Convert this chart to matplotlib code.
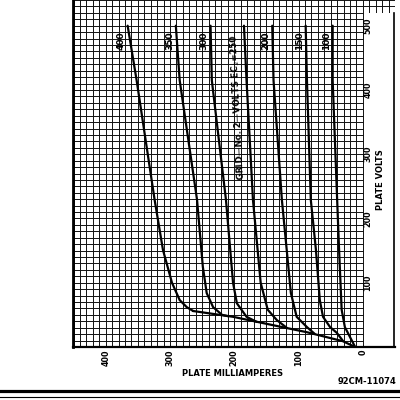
import numpy as np
import matplotlib
matplotlib.use("Agg")
import matplotlib.pyplot as plt
from matplotlib.lines import Line2D
from matplotlib.patches import Rectangle

# screen grid (grid No. 2) voltage of each curve
screen_volts = [400, 350, 300, 250, 200, 150, 100]

# plate current (mA) and plate voltage (V), one pair per curve
ma_400 = [366, 352, 324, 311, 297, 285, 274, 264]
v_400 = [500, 415, 229, 151, 100, 73, 62, 56]
ma_350 = [291, 285, 258, 249, 243, 233, 219, 210]
v_350 = [500, 415, 229, 125, 84, 62, 50, 48]
ma_300 = [237, 235, 213, 202, 196, 181, 165]
v_300 = [500, 415, 229, 100, 68, 47, 39]
ma_250 = [185, 181, 171, 159, 148, 134, 118]
v_250 = [500, 415, 229, 100, 58, 42, 29.5]
ma_200 = [141, 139, 126, 112, 103, 87, 75]
v_200 = [500, 415, 229, 84, 47, 31, 20.5]
ma_150 = [89, 87, 81, 73, 67, 62, 51, 40.5, 31]
v_150 = [500, 415, 229, 151, 73, 47, 31, 22, 9.5]
ma_100 = [47, 47, 40, 37, 33, 28, 20, 12]
v_100 = [500, 415, 229, 151, 58, 31, 15.5, 0]

# low-voltage part that all the curves run into
ma_knee = [264, 202, 140, 87, 47, 31, 12]
v_knee = [56, 47, 34, 23, 13, 9, 0]

ma_ticks = [0, 100, 200, 300, 400]
volt_ticks = [100, 200, 300, 400, 500]

curves = [(ma_400, v_400), (ma_350, v_350), (ma_300, v_300), (ma_250, v_250),
          (ma_200, v_200), (ma_150, v_150), (ma_100, v_100)]

plt.rcParams["font.family"] = ["DejaVu Sans"]

fig = plt.figure(figsize=(4, 4), dpi=100)
ax = fig.add_axes([73 / 400, 53 / 400, 322 / 400, 347 / 400])
ax.set_xlim(451, -50)
ax.set_ylim(0, 540)

# graph paper: a line every 10 mA and every 10 V
ax.set_xticks(ma_ticks)
ax.set_xticklabels([str(t) for t in ma_ticks], rotation=90,
                   fontsize=5.8, fontweight="bold")
ax.set_xticks(np.arange(-40, 451, 10), minor=True)
ax.set_yticks([])
ax.set_yticks(np.arange(0, 541, 10), minor=True)
ax.tick_params(which="both", length=0, pad=2)
ax.set_axisbelow(True)
ax.grid(which="both", color="#111111", lw=0.7)

for side in ["top", "right"]:
    ax.spines[side].set_visible(False)
ax.spines["left"].set_linewidth(2.0)
ax.spines["bottom"].set_linewidth(1.6)

# blank strip on the right that holds the plate-volts scale
ax.add_patch(Rectangle((-1, -2), -52, 521, facecolor="white",
                       edgecolor="none", zorder=1))
ax.axvline(-48.5, 0, 520 / 540, color="black", lw=1.2, zorder=3)

for (ma, v), ec2 in zip(curves, screen_volts):
    ax.plot(ma, v, color="black", lw=1.6, solid_joinstyle="round",
            solid_capstyle="round", zorder=2)
    if ec2 != 250:
        ax.text(ma[0] + 10, 477, str(ec2), rotation=90, ha="center",
                va="center", fontsize=6.5, fontweight="bold")
ax.plot(ma_knee, v_knee, color="black", lw=1.6, solid_joinstyle="round", zorder=2)

ax.text(ma_250[0] + 9, 373, "GRID\u2014No. 2\u2014VOLTS EC$_2$=250", rotation=93,
        ha="center", va="center", fontsize=6.3, fontweight="bold")

for t in volt_ticks:
    ax.text(-8, t, str(t), rotation=90, ha="center", va="center",
            fontsize=5.8, fontweight="bold")
ax.text(-28, 260, "PLATE VOLTS", rotation=90, ha="center", va="center",
        fontsize=6, fontweight="bold")

fig.text(233 / 400, 1 - 373 / 400, "PLATE MILLIAMPERES", ha="center",
         va="center", fontsize=6, fontweight="bold")
fig.text(367 / 400, 1 - 381 / 400, "92CM-11074", ha="center", va="center",
         fontsize=6, fontweight="bold")

fig.add_artist(Line2D([0, 1], [1 - 391 / 400] * 2, transform=fig.transFigure,
                      color="black", lw=2.3))
fig.add_artist(Line2D([0, 1], [1 - 397 / 400] * 2, transform=fig.transFigure,
                      color="black", lw=0.8))

fig.savefig("out.png", dpi=100)
